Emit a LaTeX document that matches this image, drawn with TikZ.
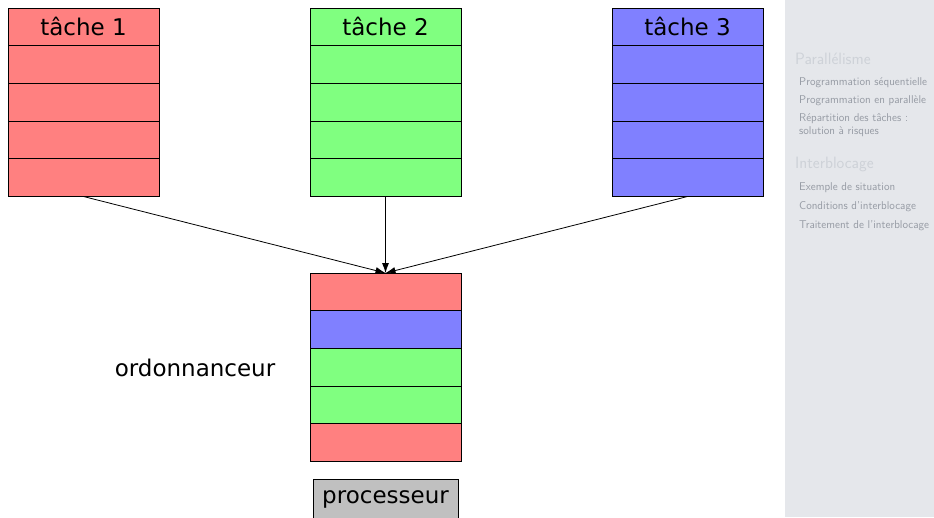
\documentclass[tikz,border=0pt]{standalone}
\usepackage{fontspec}
\newfontfamily\dv{DejaVu Sans}
\usetikzlibrary{arrows.meta}
\definecolor{tred}{HTML}{FF8080}
\definecolor{tgreen}{HTML}{80FF80}
\definecolor{tblue}{HTML}{8080FF}
\definecolor{procgray}{HTML}{C0C0C0}
\definecolor{sidebg}{RGB}{229,231,235}
\definecolor{sectxt}{RGB}{206,210,216}
\definecolor{subtxt}{RGB}{150,155,164}
\tikzset{
  cell/.style={draw, line width=0.8pt, minimum width=151pt, minimum height=37.7pt,
    inner sep=0pt, outer sep=0pt, anchor=north, font=\dv\fontsize{23}{27}\selectfont},
  arr/.style={-{Latex[length=10pt,width=7pt]}, line width=0.8pt},
  lbl/.style={inner sep=0pt, anchor=base, font=\dv\fontsize{23}{27}\selectfont},
  sec/.style={inner sep=0pt, anchor=base west, text=sectxt, font=\sffamily\fontsize{16.4}{18}\selectfont},
  sub/.style={inner sep=0pt, anchor=base west, text=subtxt, font=\sffamily\fontsize{11.3}{13}\selectfont},
}
\begin{document}
\begin{tikzpicture}[x=1pt,y=-1pt]
\useasboundingbox (0,0) rectangle (934,517);
% sidebar
\fill[sidebg] (785,0) rectangle (934,517);
\node[sec] (s1) at (795,64) {Parallélisme};
\node[sub] (s1a) at (799,85.7) {Programmation séquentielle};
\node[sub] (s1b) at (799,103.5) {Programmation en parallèle};
\node[sub] (s1c) at (799,121) {Répartition des tâches :};
\node[sub] (s1d) at (799,134) {solution à risques};
\node[sec] (s2) at (795,168) {Interblocage};
\node[sub] (s2a) at (799,190.5) {Exemple de situation};
\node[sub] (s2b) at (799,209.5) {Conditions d'interblocage};
\node[sub] (s2c) at (799,228) {Traitement de l'interblocage};
% task 1
\node[cell,fill=tred] (t1a) at (83.5,8) {tâche 1};
\node[cell,fill=tred] (t1b) at (t1a.south) {};
\node[cell,fill=tred] (t1c) at (t1b.south) {};
\node[cell,fill=tred] (t1d) at (t1c.south) {};
\node[cell,fill=tred] (t1e) at (t1d.south) {};
% task 2
\node[cell,fill=tgreen] (t2a) at (385.5,8) {tâche 2};
\node[cell,fill=tgreen] (t2b) at (t2a.south) {};
\node[cell,fill=tgreen] (t2c) at (t2b.south) {};
\node[cell,fill=tgreen] (t2d) at (t2c.south) {};
\node[cell,fill=tgreen] (t2e) at (t2d.south) {};
% task 3
\node[cell,fill=tblue] (t3a) at (687.5,8) {tâche 3};
\node[cell,fill=tblue] (t3b) at (t3a.south) {};
\node[cell,fill=tblue] (t3c) at (t3b.south) {};
\node[cell,fill=tblue] (t3d) at (t3c.south) {};
\node[cell,fill=tblue] (t3e) at (t3d.south) {};
% scheduler
\node[cell,fill=tred] (o1) at (385.5,273) {};
\node[cell,fill=tblue] (o2) at (o1.south) {};
\node[cell,fill=tgreen] (o3) at (o2.south) {};
\node[cell,fill=tgreen] (o4) at (o3.south) {};
\node[cell,fill=tred] (o5) at (o4.south) {};
\node[lbl] (ord) at (195,376) {ordonnanceur};
% processor
\node[draw, line width=0.8pt, fill=procgray, anchor=north, minimum width=145pt,
  inner xsep=0pt, inner ysep=6pt, text height=18pt, text depth=12pt,
  font=\dv\fontsize{23}{27}\selectfont] (proc) at (385.5,479) {processeur};
% arrows
\draw[arr] (t1e.south) -- (o1.north);
\draw[arr] (t2e.south) -- (o1.north);
\draw[arr] (t3e.south) -- (o1.north);
\end{tikzpicture}
\end{document}
